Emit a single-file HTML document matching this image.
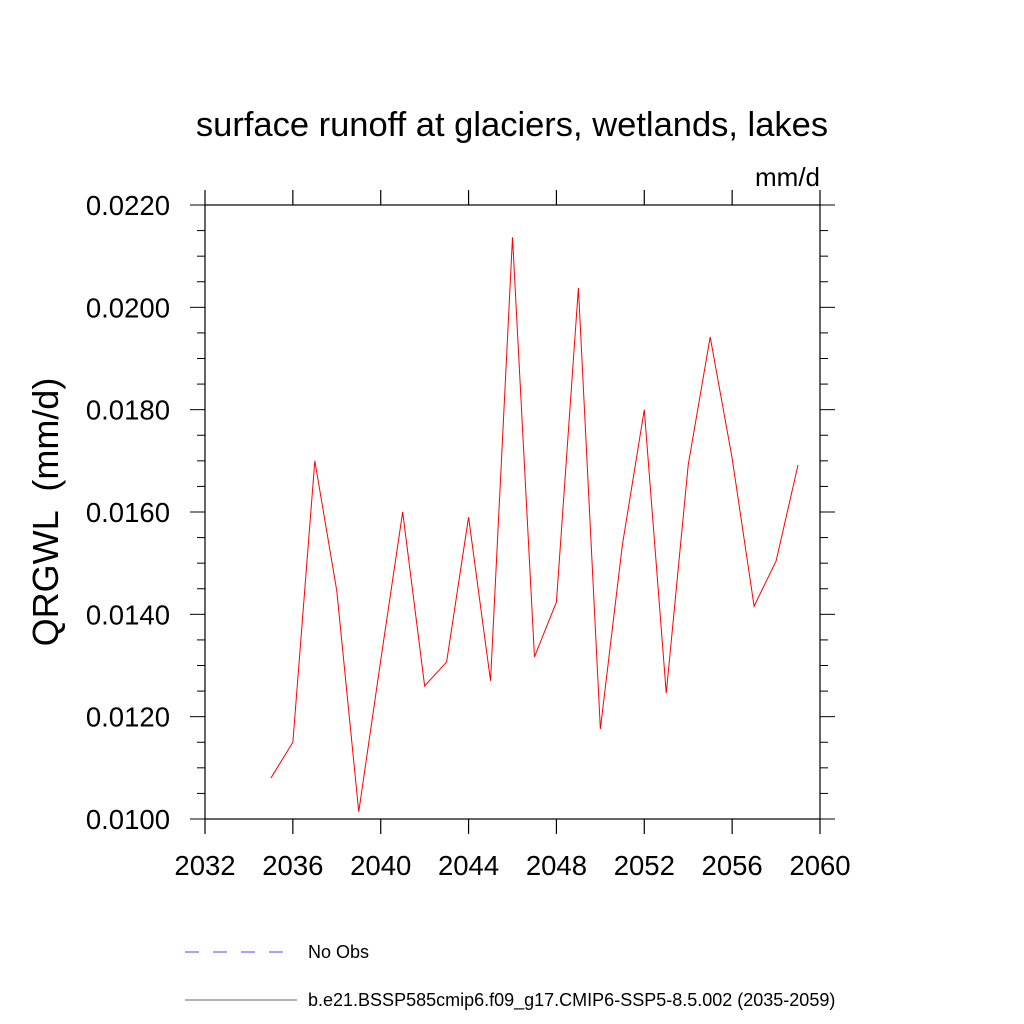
<!DOCTYPE html>
<html><head><meta charset="utf-8"><style>body{margin:0;background:#fff}svg{display:block}</style></head>
<body>
<svg id="chart" width="1024" height="1024" xmlns="http://www.w3.org/2000/svg" font-family="'Liberation Sans', sans-serif">
<text x="512" y="136" font-size="34.5" text-anchor="middle">surface runoff at glaciers, wetlands, lakes</text>
<text x="820" y="186" font-size="26" text-anchor="end">mm/d</text>
<text transform="translate(58,512) rotate(-90)" font-size="36" text-anchor="middle" style="white-space:pre" xml:space="preserve">QRGWL  (mm/d)</text>
<g id="axes"></g>
<g id="series"></g>
<g>
<line x1="185" y1="952" x2="292" y2="952" stroke="#4444ff" stroke-width="1" stroke-dasharray="14,14"/>
<text x="308" y="958" font-size="18">No Obs</text>
<line x1="185" y1="1000" x2="297" y2="1000" stroke="#666" stroke-width="1"/>
<text x="308" y="1006" font-size="18">b.e21.BSSP585cmip6.f09_g17.CMIP6-SSP5-8.5.002 (2035-2059)</text>
</g>
</svg>
<script>
const years=[2035,2036,2037,2038,2039,2040,2041,2042,2043,2044,2045,2046,2047,2048,2049,2050,2051,2052,2053,2054,2055,2056,2057,2058,2059];
const values=[0.0108,0.0115,0.0170,0.01446,0.01014,0.0131,0.0160,0.0126,0.01307,0.0159,0.0127,0.02137,0.01317,0.01424,0.02038,0.01176,0.01535,0.0180,0.01246,0.01692,0.01942,0.01705,0.01416,0.01504,0.01692];
const xTicks=[2032,2036,2040,2044,2048,2052,2056,2060];
const yTicks=[0.0100,0.0120,0.0140,0.0160,0.0180,0.0200,0.0220];
const L=205,R=820,T=205,B=819,x0=2032,x1=2060,y0=0.010,y1=0.022;
const sx=v=>L+(v-x0)/(x1-x0)*(R-L);
const sy=v=>B-(v-y0)/(y1-y0)*(B-T);
const NS="http://www.w3.org/2000/svg";
const ax=document.getElementById('axes');
function mk(tag,attrs,parent){const e=document.createElementNS(NS,tag);for(const k in attrs)e.setAttribute(k,attrs[k]);parent.appendChild(e);return e;}
const frame=mk('rect',{x:L,y:T,width:R-L,height:B-T,fill:'none',stroke:'#000','stroke-width':1.2},ax);


xTicks.forEach(t=>{
 const x=sx(t);
 const a=mk('line',{x1:x,y1:B,x2:x,y2:B+15,stroke:'#000','stroke-width':1.2},ax);
 
 
 const b=mk('line',{x1:x,y1:T,x2:x,y2:T-15,stroke:'#000','stroke-width':1.2},ax);
 
 
 const tx=mk('text',{x:x,y:875,'font-size':27.5,'text-anchor':'middle'},ax);
 tx.textContent=t;
 
 
});
for(let i=0;i<=24;i++){
 const v=y0+i*0.0005, y=sy(v), len=(i%4===0)?15:8;
 const a=mk('line',{x1:L,y1:y,x2:L-len,y2:y,stroke:'#000','stroke-width':1},ax);
 
 
 const b=mk('line',{x1:R,y1:y,x2:R+len,y2:y,stroke:'#000','stroke-width':1},ax);
 
 
}
yTicks.forEach(t=>{
 const tx=mk('text',{x:170,y:sy(t)+10,'font-size':27.5,'text-anchor':'end'},ax);
 tx.textContent=t.toFixed(4);
 
 
});
const p=mk('polyline',{points:years.map((y,i)=>sx(y)+','+sy(values[i])).join(' '),fill:'none',stroke:'#ff0000','stroke-width':1},document.getElementById('series'));


</script>
</body></html>
